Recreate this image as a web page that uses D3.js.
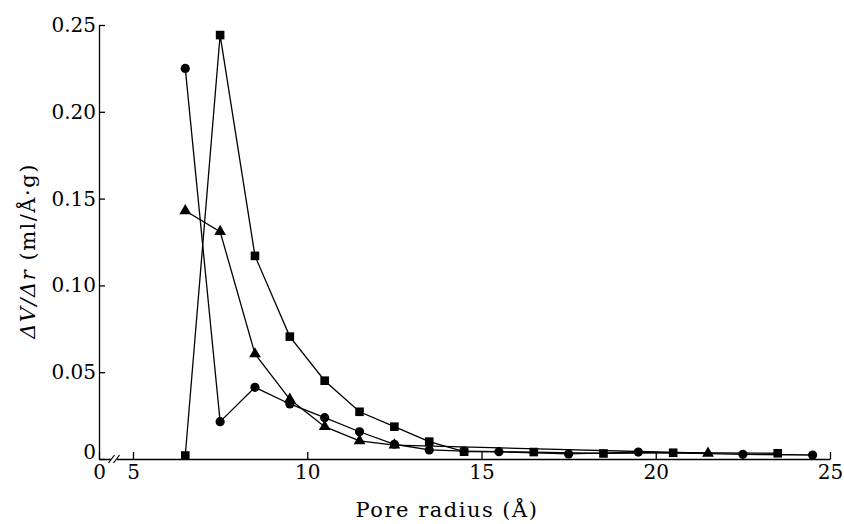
<!DOCTYPE html>
<html>
<head>
<meta charset="utf-8">
<script src="https://cdn.jsdelivr.net/npm/d3@7/dist/d3.min.js"></script>
<style>
  body { margin: 0; background: #fff; }
</style>
</head>
<body>
<svg id="chart"></svg>
<script>
// pore radius (A) and dV/dr values for each sample
const circleX = [6.5, 7.5, 8.5, 9.5, 10.5, 11.5, 12.5, 13.5, 14.5, 15.5, 17.5, 19.5, 22.5, 24.5];
const circleY = [0.225, 0.0215, 0.0413, 0.0317, 0.0238, 0.0157, 0.0085, 0.0052, 0.0045, 0.0042, 0.0029, 0.0040, 0.0027, 0.0023];

const squareX = [6.5, 7.5, 8.5, 9.5, 10.5, 11.5, 12.5, 13.5, 14.5, 16.5, 18.5, 20.5, 23.5];
const squareY = [0.002, 0.2442, 0.117, 0.0705, 0.0451, 0.0272, 0.0186, 0.0100, 0.0042, 0.0040, 0.0032, 0.0036, 0.0033];

const triangleX = [6.5, 7.5, 8.5, 9.5, 10.5, 11.5, 12.5, 21.5];
const triangleY = [0.143, 0.131, 0.0605, 0.0344, 0.0186, 0.0105, 0.0080, 0.0033];

const xTicks = [0, 5, 10, 15, 20, 25];
const yTicks = [0, 0.05, 0.10, 0.15, 0.20, 0.25];

const width = 844;
const height = 524;
const serif = '"DejaVu Serif", "Liberation Serif", serif';

const svg = d3.select('#chart')
    .attr('width', width)
    .attr('height', height);

// x axis has a break between 0 and 5
const x = d3.scaleLinear()
    .domain([0, 5, 25])
    .range([99, 133, 830]);

const y = d3.scaleLinear()
    .domain([0, 0.25])
    .range([459, 25]);

// axes
const xAxis = svg.append('g')
    .attr('transform', `translate(0, ${y(0)})`)
    .call(d3.axisBottom(x).tickValues(xTicks).tickSizeInner(-7).tickSizeOuter(0).tickPadding(6)
        .tickFormat(d3.format('d')));

const yAxis = svg.append('g')
    .attr('transform', `translate(${x(0)}, 0)`)
    .call(d3.axisLeft(y).tickValues(yTicks).tickSizeInner(-6).tickSizeOuter(0).tickPadding(3)
        .tickFormat(d => d === 0 ? '0' : d3.format('.2f')(d)));

[xAxis, yAxis].forEach(a => {
    a.attr('font-family', serif);
    a.selectAll('path, line').attr('stroke', '#000').attr('stroke-width', 1.3);
    a.selectAll('text')
        .style('font-family', serif)
        .style('font-size', '20px')
        .attr('fill', '#000');
});

// "0" on the y axis sits just above the axis line
yAxis.selectAll('.tick').filter(d => d === 0).select('text').attr('dy', '-0.05em');

// break mark on x axis
const bx = 114;
svg.append('rect')
    .attr('x', bx - 3).attr('y', y(0) - 3)
    .attr('width', 6).attr('height', 6)
    .attr('fill', '#fff');
[-2.5, 2.5].forEach(o => {
    svg.append('line')
        .attr('x1', bx + o - 3).attr('y1', y(0) + 4)
        .attr('x2', bx + o + 3).attr('y2', y(0) - 4)
        .attr('stroke', '#000').attr('stroke-width', 1.2);
});

// lines
const line = d3.line().x(d => x(d[0])).y(d => y(d[1]));
const zip = (xs, ys) => xs.map((v, i) => [v, ys[i]]);

const triangleData = zip(triangleX, triangleY);
const circleData = zip(circleX, circleY);
const squareData = zip(squareX, squareY);

[triangleData, circleData, squareData].forEach(data => {
    svg.append('path')
        .datum(data)
        .attr('d', line)
        .attr('fill', 'none')
        .attr('stroke', '#000')
        .attr('stroke-width', 1.3);
});

// markers
svg.selectAll('.tri')
    .data(triangleData)
    .enter()
    .append('path')
    .attr('class', 'tri')
    .attr('d', d3.symbol().type(d3.symbolTriangle).size(60))
    .attr('transform', d => `translate(${x(d[0])}, ${y(d[1])})`)
    .attr('fill', '#000');

svg.selectAll('.dot')
    .data(circleData)
    .enter()
    .append('circle')
    .attr('class', 'dot')
    .attr('cx', d => x(d[0]))
    .attr('cy', d => y(d[1]))
    .attr('r', 4.6)
    .attr('fill', '#000');

svg.selectAll('.sq')
    .data(squareData)
    .enter()
    .append('rect')
    .attr('class', 'sq')
    .attr('x', d => x(d[0]) - 4.3)
    .attr('y', d => y(d[1]) - 4.3)
    .attr('width', 8.6)
    .attr('height', 8.6)
    .attr('fill', '#000');

// axis titles
svg.append('text')
    .attr('x', 447)
    .attr('y', 517)
    .style('font-family', serif)
    .style('text-anchor', 'middle')
    .style('font-size', '21px')
    .style('letter-spacing', '1.5px')
    .text('Pore radius (Å)');

const yLabel = svg.append('text')
    .attr('transform', 'translate(35, 251) rotate(-90)')
    .style('font-family', serif)
    .style('text-anchor', 'middle')
    .style('font-size', '21px')
    .style('letter-spacing', '1.5px');
yLabel.append('tspan').style('font-style', 'italic').text('ΔV/Δr');
yLabel.append('tspan').text(' (ml/Å·g)');
</script>
</body>
</html>
